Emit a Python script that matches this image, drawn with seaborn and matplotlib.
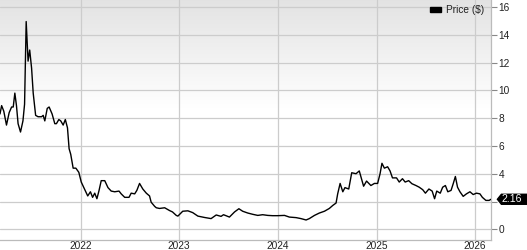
import numpy as np
import pandas as pd
import matplotlib
matplotlib.use("Agg")
import matplotlib.pyplot as plt
from matplotlib.path import Path
from matplotlib.patches import Patch
import seaborn as sns

dates = [
    "2021-03-08", "2021-03-14", "2021-03-22", "2021-04-01", "2021-04-11", "2021-04-20",
    "2021-04-26", "2021-05-02", "2021-05-08", "2021-05-14", "2021-05-23", "2021-06-01",
    "2021-06-07", "2021-06-13", "2021-06-20", "2021-06-26", "2021-07-03", "2021-07-09",
    "2021-07-18", "2021-07-27", "2021-08-09", "2021-08-15", "2021-08-21", "2021-08-30",
    "2021-09-06", "2021-09-17", "2021-09-27", "2021-10-03", "2021-10-12", "2021-10-19",
    "2021-10-28", "2021-11-05", "2021-11-13", "2021-11-19", "2021-11-25", "2021-12-04",
    "2021-12-14", "2021-12-25", "2022-01-03", "2022-01-15", "2022-01-27", "2022-02-06",
    "2022-02-14", "2022-02-22", "2022-03-02", "2022-03-10", "2022-03-18", "2022-03-31",
    "2022-04-12", "2022-04-24", "2022-05-07", "2022-05-23", "2022-05-31", "2022-06-13",
    "2022-06-29", "2022-07-07", "2022-07-20", "2022-07-28", "2022-08-07", "2022-08-19",
    "2022-09-01", "2022-09-07", "2022-09-13", "2022-09-19", "2022-10-02", "2022-10-08",
    "2022-10-20", "2022-11-08", "2022-11-26", "2022-12-07", "2022-12-21", "2022-12-27",
    "2023-01-14", "2023-02-02", "2023-02-20", "2023-03-11", "2023-04-05", "2023-04-29",
    "2023-05-18", "2023-06-05", "2023-06-14", "2023-07-06", "2023-07-25", "2023-08-10",
    "2023-08-24", "2023-09-12", "2023-09-30", "2023-10-19", "2023-11-06", "2023-11-25",
    "2023-12-13", "2024-01-01", "2024-01-26", "2024-02-13", "2024-03-09", "2024-03-27",
    "2024-04-15", "2024-04-27", "2024-05-16", "2024-06-03", "2024-06-22", "2024-07-10",
    "2024-07-23", "2024-08-04", "2024-08-10", "2024-08-19", "2024-08-29", "2024-09-06",
    "2024-09-20", "2024-10-01", "2024-10-17", "2024-10-29", "2024-11-08", "2024-11-14",
    "2024-11-25", "2024-12-11", "2024-12-24", "2025-01-05", "2025-01-14", "2025-01-21",
    "2025-01-30", "2025-02-11", "2025-02-20", "2025-03-01", "2025-03-16", "2025-03-26",
    "2025-04-07", "2025-04-17", "2025-04-30", "2025-05-12", "2025-05-27", "2025-06-08",
    "2025-06-21", "2025-07-01", "2025-07-14", "2025-07-26", "2025-08-04", "2025-08-12",
    "2025-08-25", "2025-09-03", "2025-09-13", "2025-09-22", "2025-10-04", "2025-10-12",
    "2025-10-20", "2025-10-28", "2025-11-06", "2025-11-18", "2025-11-30", "2025-12-13",
    "2025-12-25", "2026-01-06", "2026-01-19", "2026-01-28", "2026-02-10", "2026-02-22",
    "2026-03-01",
]
prices = [
    8.3, 8.9, 8.5, 7.5, 8.4, 8.8,
    8.8, 9.8, 8.9, 7.6, 7.0, 7.8,
    9.0, 14.95, 12.1, 12.9, 11.6, 9.8,
    8.2, 8.1, 8.1, 8.2, 7.8, 8.7,
    8.8, 8.3, 7.6, 7.6, 7.9, 7.8,
    7.5, 7.9, 7.3, 5.8, 5.4, 4.4,
    4.4, 4.1, 3.4, 2.9, 2.4, 2.7,
    2.3, 2.6, 2.2, 2.8, 3.5, 3.5,
    3.0, 2.75, 2.7, 2.75, 2.55, 2.3,
    2.3, 2.6, 2.55, 2.8, 3.3, 2.9,
    2.6, 2.5, 2.4, 1.95, 1.65, 1.55,
    1.5, 1.55, 1.35, 1.25, 1.0, 0.95,
    1.3, 1.33, 1.2, 0.95, 0.85, 0.77,
    1.03, 0.93, 1.05, 0.88, 1.25, 1.48,
    1.3, 1.17, 1.08, 1.0, 1.05, 1.0,
    0.98, 0.98, 1.0, 0.88, 0.84, 0.77,
    0.67, 0.77, 1.0, 1.17, 1.3, 1.5,
    1.72, 1.89, 2.55, 3.3, 2.7, 3.0,
    2.9, 4.07, 4.0, 4.2, 3.5, 3.1,
    3.47, 3.15, 3.3, 3.3, 4.0, 4.75,
    4.4, 4.5, 4.2, 3.7, 3.7, 3.4,
    3.64, 3.4, 3.5, 3.28, 3.15, 3.03,
    2.85, 2.6, 2.9, 2.75, 2.2, 2.75,
    2.6, 3.03, 3.15, 2.7, 2.8, 3.28,
    3.8, 3.03, 2.7, 2.37, 2.55, 2.7,
    2.5, 2.6, 2.55, 2.3, 2.08, 2.08,
    2.16,
]
y_ticks = [0, 2, 4, 6, 8, 10, 12, 14, 16]
y_tick_labels = ["0", "", "4", "6", "8", "10", "12", "14", "16"]  # "2" hidden under the last-value tag
x_tick_years = ["2022", "2023", "2024", "2025", "2026"]
series_label = "Price ($)"
last_label = "2.16"

df = pd.DataFrame({"Date": pd.to_datetime(dates), "Price": prices})

sns.set_theme(style="white")
plt.rcParams["font.family"] = ["Liberation Sans", "DejaVu Sans"]

W, H = 527, 250
fig = plt.figure(figsize=(W / 100, H / 100), dpi=100)
ax = fig.add_axes([0, 10 / H, 491 / W, 240 / H])

# gradient background
grad = np.ones((256, 1, 3))
t = np.linspace(0, 1, 256)[:, None]
top_c = np.array([0.89, 0.89, 0.89])
frac = np.clip(t / 0.45, 0, 1)
grad[:, 0, :] = top_c + (1 - top_c) * frac
ax.imshow(grad, extent=[0, 1, 0, 1], transform=ax.transAxes, aspect="auto",
          zorder=0, interpolation="bilinear")

sns.lineplot(data=df, x="Date", y="Price", ax=ax, color="black", linewidth=1.0,
             legend=False, zorder=3)

ax.set_xlim(df["Date"].iloc[0], df["Date"].iloc[-1])
ax.set_ylim(-0.77, 16.5)
ax.set_yticks(y_ticks)
ax.set_yticklabels(y_tick_labels)
ax.set_xticks(pd.to_datetime([y + "-01-01" for y in x_tick_years]))
ax.set_xticklabels(x_tick_years)
ax.set_xlabel("")
ax.set_ylabel("")

ax.grid(True, color="#cccccc", linewidth=0.9, zorder=1)
ax.set_axisbelow(True)
ax.yaxis.tick_right()
ax.tick_params(axis="y", which="both", right=True, left=False, length=4, width=0.8,
               color="#888888", labelsize=7.3, labelcolor="#222222", pad=1.5)
ax.tick_params(axis="x", length=0, labelsize=7.3, labelcolor="#222222", pad=1.0)

for side in ["left", "top"]:
    ax.spines[side].set_visible(False)
for side in ["right", "bottom"]:
    ax.spines[side].set_visible(True)
    ax.spines[side].set_color("#bbbbbb")
    ax.spines[side].set_linewidth(0.9)

leg = ax.legend(handles=[Patch(facecolor="black", edgecolor="black", label=series_label)],
                loc="upper right", bbox_to_anchor=(484 / 491, 1 - 5 / 240),
                frameon=False, fontsize=7.3, handlelength=1.1, handleheight=0.4,
                handletextpad=0.5, borderpad=0, borderaxespad=0)
for txt in leg.get_texts():
    txt.set_color("#222222")


def pentagon_box(x0, y0, width, height, mutation_size):
    tip = height * 0.4
    right = x0 + width + mutation_size * 0.8
    verts = [(x0 - tip, y0 + height / 2), (x0, y0), (right, y0),
             (right, y0 + height), (x0, y0 + height), (x0 - tip, y0 + height / 2)]
    codes = [Path.MOVETO] + [Path.LINETO] * 4 + [Path.CLOSEPOLY]
    return Path(verts, codes)


ax.annotate(last_label, xy=(1, prices[-1]), xycoords=("axes fraction", "data"),
            xytext=(7.5, 0), textcoords="offset points", ha="left", va="center",
            fontsize=7.6, color="white", annotation_clip=False, zorder=10,
            bbox=dict(boxstyle=pentagon_box, facecolor="black", edgecolor="black", pad=0.55))

fig.savefig("out.png", dpi=100)
